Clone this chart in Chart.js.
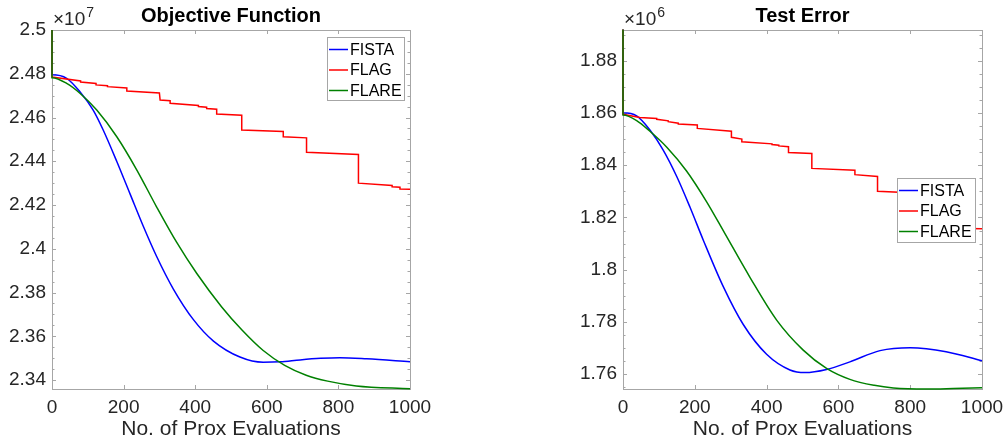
<!DOCTYPE html>
<html>
<head>
<meta charset="utf-8">
<script src="https://cdn.jsdelivr.net/npm/chart.js@4.4.1/dist/chart.umd.min.js"></script>
<style>
  body { margin: 0; background: #fff; }
  #wrap { position: relative; width: 1003px; height: 440px; }
  canvas { position: absolute; top: 0; }
  #objective { left: 0; }
  #testError { left: 500px; }
</style>
</head>
<body>
<div id="wrap">
  <canvas id="objective" width="500" height="440"></canvas>
  <canvas id="testError" width="503" height="440"></canvas>
</div>
<script>
const seriesNames = ["FISTA", "FLAG", "FLARE"];
const seriesColors = ["#0000ff", "#ff0000", "#008000"];

const xTicks = [0, 200, 400, 600, 800, 1000];
const xLabels = ["0", "200", "400", "600", "800", "1000"];

// Objective function (x 10^7)
const objYTicks = [2.34, 2.36, 2.38, 2.40, 2.42, 2.44, 2.46, 2.48, 2.50];
const objYLabels = ["2.34", "2.36", "2.38", "2.4", "2.42", "2.44", "2.46", "2.48", "2.5"];

const objFistaX = [0, 0, 41, 78, 115, 143, 181, 218, 255, 292, 339, 395, 451, 525, 590, 637, 693, 750, 804, 879, 1000];
const objFistaY = [2.5, 2.4795, 2.4779, 2.4718, 2.4634, 2.4543, 2.4399, 2.4251, 2.4103, 2.3966, 2.3816, 2.3676, 2.3578, 2.3505, 2.3481, 2.3483, 2.3492, 2.3499, 2.3502, 2.3497, 2.3484];

const objFlagX = [0, 0, 80, 80, 123, 123, 155, 155, 209, 209, 300, 302, 330, 330, 409, 409, 432, 432, 460, 460, 530, 530, 646, 646, 711, 711, 856, 856, 950, 950, 972, 972, 1000];
const objFlagY = [2.5, 2.4785, 2.4767, 2.4762, 2.4756, 2.4749, 2.4745, 2.4741, 2.4735, 2.4721, 2.4712, 2.4680, 2.4677, 2.4665, 2.4655, 2.4650, 2.4647, 2.4641, 2.4638, 2.4616, 2.4610, 2.4543, 2.4536, 2.4512, 2.4507, 2.4441, 2.4431, 2.4300, 2.4289, 2.4283, 2.4281, 2.4273, 2.4272];

const objFlareX = [0, 0, 41, 78, 125, 181, 237, 292, 348, 404, 474, 530, 590, 650, 710, 770, 850, 1000];
const objFlareY = [2.5, 2.4782, 2.4756, 2.4711, 2.4634, 2.4512, 2.4360, 2.4192, 2.4030, 2.3888, 2.3734, 2.3630, 2.3535, 2.3467, 2.3422, 2.3395, 2.3373, 2.3360];

// Test error (x 10^6)
const errYTicks = [1.76, 1.78, 1.80, 1.82, 1.84, 1.86, 1.88];
const errYLabels = ["1.76", "1.78", "1.8", "1.82", "1.84", "1.86", "1.88"];

const errFistaX = [0, 0, 38, 75, 112, 150, 187, 224, 279, 335, 400, 465, 507, 567, 632, 716, 800, 900, 1000];
const errFistaY = [1.892, 1.8601, 1.8589, 1.8535, 1.8458, 1.8356, 1.8238, 1.8112, 1.7936, 1.7790, 1.7676, 1.7616, 1.7606, 1.7618, 1.7647, 1.7690, 1.7701, 1.7686, 1.7651];

const errFlagX = [0, 0, 47, 94, 94, 126, 126, 154, 154, 207, 207, 302, 302, 331, 331, 415, 415, 434, 434, 461, 461, 526, 526, 646, 646, 709, 709, 860, 860, 1000];
const errFlagY = [1.892, 1.8595, 1.8583, 1.8579, 1.8576, 1.8570, 1.8567, 1.8561, 1.8558, 1.8554, 1.8541, 1.8530, 1.8507, 1.8500, 1.8490, 1.8482, 1.8479, 1.8477, 1.8474, 1.8471, 1.8449, 1.8445, 1.8388, 1.8381, 1.8364, 1.8357, 1.8300, 1.8291, 1.8160, 1.8157];

const errFlareX = [0, 0, 38, 75, 122, 177, 233, 284, 354, 428, 502, 567, 632, 700, 753, 846, 920, 1000];
const errFlareY = [1.892, 1.8592, 1.8571, 1.8530, 1.8469, 1.8378, 1.8260, 1.8138, 1.7970, 1.7807, 1.7692, 1.7622, 1.7580, 1.7557, 1.7547, 1.7543, 1.7545, 1.7548];

const FONT = "'Liberation Sans', Arial, Helvetica, sans-serif";

// MATLAB-style box with inward ticks (under the lines), exponent label and legend (on top)
const matlabFrame = {
  id: "matlabFrame",
  beforeDatasetsDraw(chart, args, opts) {
    const { ctx, chartArea: a } = chart;
    const xs = chart.scales.x, ys = chart.scales.y;
    ctx.save();
    ctx.strokeStyle = "#a6a6a6";
    ctx.lineWidth = 1;
    ctx.strokeRect(a.left + 0.5, a.top + 0.5, a.right - a.left, a.bottom - a.top);

    ctx.beginPath();
    xs.ticks.forEach((t) => {
      const p = Math.round(xs.getPixelForValue(t.value)) + 0.5;
      ctx.moveTo(p, a.bottom); ctx.lineTo(p, a.bottom - 4);
      ctx.moveTo(p, a.top); ctx.lineTo(p, a.top + 4);
    });
    ys.ticks.forEach((t) => {
      const p = Math.round(ys.getPixelForValue(t.value)) + 0.5;
      ctx.moveTo(a.left, p); ctx.lineTo(a.left + 4, p);
      ctx.moveTo(a.right, p); ctx.lineTo(a.right - 4, p);
    });
    const k0 = Math.ceil(ys.min / opts.minorStep - 1e-6);
    const k1 = Math.floor(ys.max / opts.minorStep + 1e-6);
    for (let k = k0; k <= k1; k++) {
      const p = Math.round(ys.getPixelForValue(k * opts.minorStep)) + 0.5;
      ctx.moveTo(a.left, p); ctx.lineTo(a.left + 2.5, p);
      ctx.moveTo(a.right, p); ctx.lineTo(a.right - 2.5, p);
    }
    ctx.stroke();
    ctx.restore();
  },
  afterDatasetsDraw(chart, args, opts) {
    const { ctx, chartArea: a } = chart;
    ctx.save();
    // x10^n
    ctx.fillStyle = "#262626";
    ctx.textAlign = "left";
    ctx.textBaseline = "alphabetic";
    ctx.font = "19px " + FONT;
    const base = "\u00d710";
    ctx.fillText(base, a.left + 1, a.top - 5);
    const w = ctx.measureText(base).width;
    ctx.font = "14px " + FONT;
    ctx.fillText(opts.exponent, a.left + 2 + w, a.top - 13);

    // legend
    const L = opts.legend;
    ctx.fillStyle = "#fff";
    ctx.fillRect(L.left, L.top, L.width, L.height);
    ctx.strokeStyle = "#a6a6a6";
    ctx.lineWidth = 1;
    ctx.strokeRect(L.left + 0.5, L.top + 0.5, L.width, L.height);
    ctx.font = "16px " + FONT;
    ctx.textBaseline = "middle";
    chart.data.datasets.forEach((ds, i) => {
      const yRow = L.top + 12.5 + i * 20.5;
      ctx.strokeStyle = ds.borderColor;
      ctx.lineWidth = 1.5;
      ctx.beginPath();
      ctx.moveTo(L.left + 2, yRow);
      ctx.lineTo(L.left + 21, yRow);
      ctx.stroke();
      ctx.fillStyle = "#000";
      ctx.fillText(ds.label, L.left + 23, yRow + 1);
    });
    ctx.restore();
  },
};

function makeChart(id, o) {
  const datasets = o.series.map((s, i) => ({
    label: seriesNames[i],
    data: s[0].map((x, j) => ({ x, y: s[1][j] })),
    borderColor: seriesColors[i],
    borderWidth: 1.5,
    pointRadius: 0,
    fill: false,
    tension: 0,
    cubicInterpolationMode: i === 1 ? "default" : "monotone",
    order: 2 - i,
    clip: 2,
  }));
  const tickFont = { family: FONT, size: 19 };
  new Chart(document.getElementById(id), {
    type: "line",
    data: { datasets },
    plugins: [matlabFrame],
    options: {
      responsive: false,
      animation: false,
      devicePixelRatio: 1,
      events: [],
      layout: { padding: { left: 0, top: 0, bottom: 0, right: o.padRight } },
      plugins: {
        legend: { display: false },
        tooltip: { enabled: false },
        title: {
          display: true,
          text: o.title,
          fullSize: false,
          color: "#000",
          font: { family: FONT, size: 20, weight: "bold", lineHeight: 1 },
          padding: { top: 6, bottom: 4 },
        },
        matlabFrame: { exponent: o.exponent, minorStep: 0.005, legend: o.legend },
      },
      scales: {
        x: {
          type: "linear",
          bounds: "data",
          min: 0,
          max: 1000,
          grid: { display: false, drawTicks: false },
          border: { display: false },
          afterBuildTicks: (s) => { s.ticks = xTicks.map((v) => ({ value: v })); },
          afterFit: (s) => { s.height = 51; s.paddingLeft = 0; s.paddingRight = 0; },
          ticks: {
            color: "#262626", font: tickFont, padding: 7, maxRotation: 0, autoSkip: false,
            callback: (v, i) => xLabels[i],
          },
          title: {
            display: true,
            text: "No. of Prox Evaluations",
            color: "#262626",
            font: { family: FONT, size: 21, lineHeight: 1 },
            padding: { top: 0, bottom: 0 },
          },
        },
        y: {
          type: "linear",
          bounds: "data",
          min: o.yMin,
          max: o.yMax,
          grid: { display: false, drawTicks: false },
          border: { display: false },
          afterBuildTicks: (s) => { s.ticks = o.yTicks.map((v) => ({ value: v })); },
          afterFit: (s) => { s.width = o.yWidth; s.paddingTop = 0; s.paddingBottom = 0; },
          ticks: {
            color: "#262626", font: tickFont, padding: 6, autoSkip: false,
            callback: (v, i) => o.yLabels[i],
          },
        },
      },
    },
  });
}

makeChart("objective", {
  title: "Objective Function",
  exponent: "7",
  yMin: 2.3359,
  yMax: 2.5,
  yTicks: objYTicks,
  yLabels: objYLabels,
  yWidth: 52,
  padRight: 90,
  legend: { left: 327, top: 37, width: 77, height: 63 },
  series: [[objFistaX, objFistaY], [objFlagX, objFlagY], [objFlareX, objFlareY]],
});

makeChart("testError", {
  title: "Test Error",
  exponent: "6",
  yMin: 1.7543,
  yMax: 1.8918,
  yTicks: errYTicks,
  yLabels: errYLabels,
  yWidth: 123,
  padRight: 21,
  legend: { left: 397, top: 178, width: 78, height: 64 },
  series: [[errFistaX, errFistaY], [errFlagX, errFlagY], [errFlareX, errFlareY]],
});
</script>
</body>
</html>
